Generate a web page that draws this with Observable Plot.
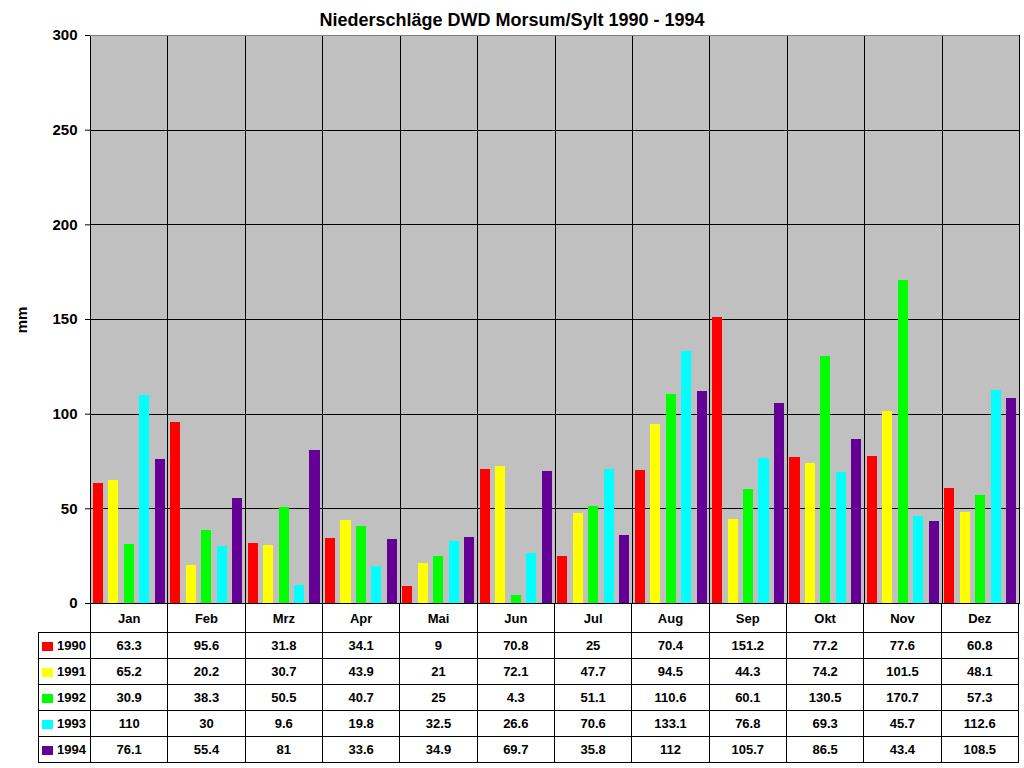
<!DOCTYPE html>
<html><head><meta charset="utf-8">
<script src="https://cdn.jsdelivr.net/npm/d3@7"></script>
<script src="https://cdn.jsdelivr.net/npm/@observablehq/plot@0.6"></script>
<style>
body{margin:0;background:#fff;font-family:"Liberation Sans",Arial,sans-serif;}
#wrap{position:relative;width:1024px;height:768px;overflow:hidden;background:#fff}
#title{position:absolute;left:0;width:1024px;top:9px;text-align:center;font-weight:bold;font-size:18px;line-height:22px;color:#000}
#ylab{position:absolute;left:22px;top:320px;transform:translate(-50%,-50%) rotate(-90deg);font-weight:bold;font-size:15px;line-height:16px}
#chart{position:absolute;left:0;top:0}
#tbl{position:absolute;left:38px;top:603px;border-collapse:collapse;table-layout:fixed;font-weight:bold;font-size:13px;color:#000}
#tbl td{border:1px solid #000;text-align:center;padding:0;height:25px;white-space:nowrap;overflow:hidden}
#tbl tr.hdr td{height:28px}
#tbl td.blank{border:none}
#tbl td.leg{text-align:left;padding-left:3px}
.sw{display:inline-block;width:11px;height:9px;margin-right:4px;vertical-align:-1px}
</style>
</head><body>
<div id="wrap">
  <div id="chart"></div>
  <div id="title">Niederschläge DWD Morsum/Sylt 1990 - 1994</div>
  <div id="ylab">mm</div>
  <table id="tbl"></table>
</div>
<script>
const months = ["Jan","Feb","Mrz","Apr","Mai","Jun","Jul","Aug","Sep","Okt","Nov","Dez"];
const years = ["1990","1991","1992","1993","1994"];
const colors = ["#ff0000","#ffff00","#00ff00","#00ffff","#640096"];
const v1990 = [63.3,95.6,31.8,34.1,9,70.8,25,70.4,151.2,77.2,77.6,60.8];
const v1991 = [65.2,20.2,30.7,43.9,21,72.1,47.7,94.5,44.3,74.2,101.5,48.1];
const v1992 = [30.9,38.3,50.5,40.7,25,4.3,51.1,110.6,60.1,130.5,170.7,57.3];
const v1993 = [110,30,9.6,19.8,32.5,26.6,70.6,133.1,76.8,69.3,45.7,112.6];
const v1994 = [76.1,55.4,81,33.6,34.9,69.7,35.8,112,105.7,86.5,43.4,108.5];
const yTicks = [0,50,100,150,200,250,300];

const series = [v1990, v1991, v1992, v1993, v1994];
const data = [];
years.forEach((y, i) => months.forEach((m, j) => data.push({month: m, year: y, value: series[i][j]})));

const chart = Plot.plot({
  width: 1024, height: 768,
  marginLeft: 90, marginRight: 5, marginTop: 35, marginBottom: 165,
  style: {fontFamily: "'Liberation Sans', Arial, sans-serif", fontSize: "15px", fontWeight: "bold", background: "transparent", color: "#000"},
  fx: {domain: months, padding: 0, round: false, axis: null},
  x: {domain: years, paddingInner: 0.35, paddingOuter: 0.175, round: false, axis: null},
  y: {domain: [0, 300], axis: null},
  color: {domain: years, range: colors},
  marks: [
    Plot.frame({fill: "#c0c0c0", stroke: "#000", shapeRendering: "crispEdges"}),
    Plot.ruleY(yTicks.slice(1, -1), {stroke: "#000", shapeRendering: "crispEdges"}),
    Plot.ruleY([300], {stroke: "#808080", shapeRendering: "crispEdges"}),
    Plot.barY(data, {fx: "month", x: "year", y: "value", fill: "year", shapeRendering: "crispEdges"}),
    Plot.ruleY([0], {stroke: "#000", shapeRendering: "crispEdges"}),
    Plot.axisY(yTicks, {tickSize: 5, tickPadding: 8, label: null, fontSize: 15, fontWeight: "bold"})
  ]
});
document.getElementById("chart").appendChild(chart);

// data table
const tbl = document.getElementById("tbl");
const colW = 928 / 12;
let html = '<colgroup><col style="width:52px">' + months.map(() => `<col style="width:${colW}px">`).join("") + '</colgroup>';
html += '<tr class="hdr"><td class="blank"></td>' + months.map(m => `<td>${m}</td>`).join("") + '</tr>';
years.forEach((y, i) => {
  html += `<tr><td class="leg"><span class="sw" style="background:${colors[i]}"></span>${y}</td>` +
    series[i].map(v => `<td>${v}</td>`).join("") + '</tr>';
});
tbl.innerHTML = html;
</script>
</body></html>
